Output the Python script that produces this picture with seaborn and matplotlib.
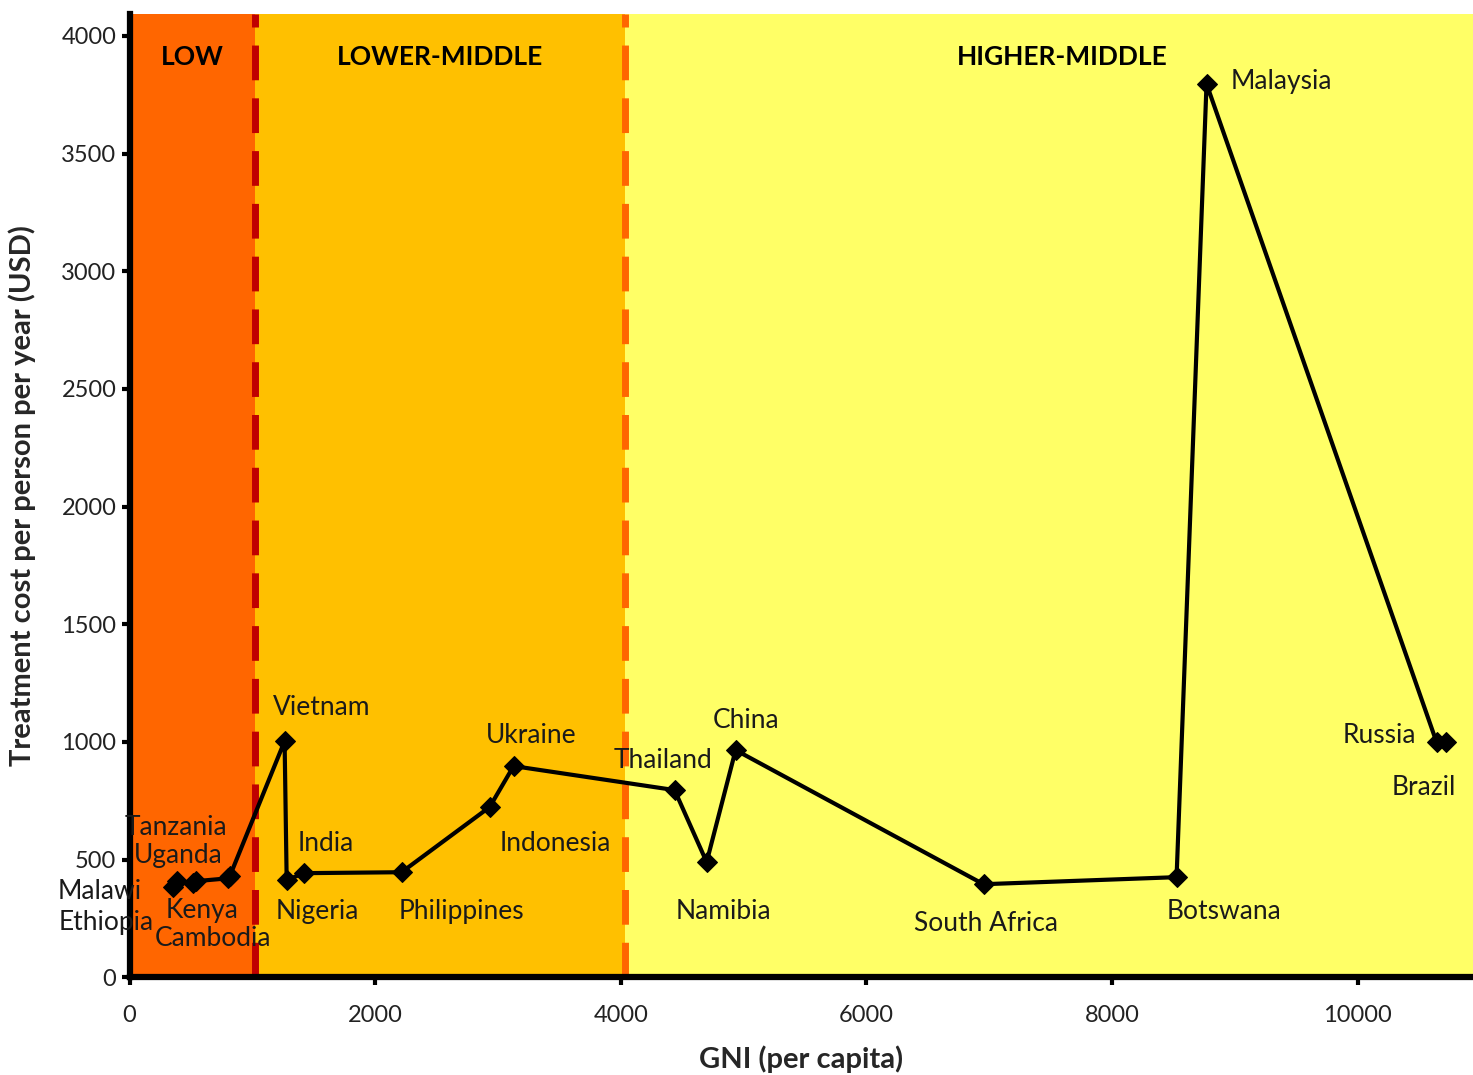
import numpy as np
import pandas as pd
import matplotlib
matplotlib.use("Agg")
import matplotlib.pyplot as plt
import seaborn as sns

# Daten
countries = ["Malawi", "Ethiopia", "Uganda", "Tanzania", "Cambodia", "Kenya",
             "Vietnam", "Nigeria", "India", "Philippines", "Indonesia", "Ukraine",
             "Thailand", "Namibia", "China", "South Africa", "Botswana", "Malaysia",
             "Russia", "Brazil"]
gni = [350, 383, 520, 540, 800, 815,
       1262, 1279, 1417, 2215, 2932, 3127,
       4438, 4699, 4935, 6954, 8526, 8770,
       10643, 10717]
cost = [383, 410, 400, 408, 420, 428,
        1003, 412, 442, 446, 723, 897,
        795, 489, 965, 395, 425, 3796,
        999, 999]

income_groups = ["LOW", "LOWER-MIDDLE", "HIGHER-MIDDLE"]
thresholds = [0, 1025, 4035, 10940]
region_colors = ["#FF6600", "#FFC000", "#FFFF66"]
line_colors = ["#C00000", "#FF6600"]
group_label_x = [513, 2530, 7598]

# Label-Offsets in Pixel (dx, dy) relativ zum Punkt
offsets = {
    "Malawi": (-73, -4), "Ethiopia": (-70, -42), "Uganda": (-15, 28), "Tanzania": (-20, 54),
    "Cambodia": (-15, -60), "Kenya": (-28, -34),
    "Vietnam": (37, 34), "Nigeria": (31, -31), "India": (22, 30), "Philippines": (60, -39),
    "Indonesia": (66, -36), "Ukraine": (18, 31), "Thailand": (-12, 30), "Namibia": (17, -49),
    "China": (10, 30), "South Africa": (2, -39), "Botswana": (47, -34), "Malaysia": (75, 2),
    "Russia": (-57, 7), "Brazil": (-22, -45),
}

df = pd.DataFrame({"country": countries, "gni": gni, "cost": cost})

sns.set_style("ticks")
plt.rcParams["font.family"] = ["Lato", "DejaVu Sans"]

fig = plt.figure(figsize=(14.73, 10.75), dpi=100)
ax = fig.add_axes([0.088, 0.091, 0.912, 0.896])

for i in range(3):
    ax.axvspan(thresholds[i], thresholds[i + 1], color=region_colors[i], zorder=0, lw=0)
    ax.text(group_label_x[i], 3911, income_groups[i], ha="center", va="center",
            fontsize=19, fontweight="bold", color="black")
for i in range(2):
    ax.axvline(thresholds[i + 1], color=line_colors[i], lw=5, ls=(0, (5, 2.6)), zorder=1)

sns.lineplot(data=df, x="gni", y="cost", marker="D", markersize=10, color="black",
             linewidth=3, markeredgecolor="black", ax=ax, zorder=3)

for c, x, y in zip(countries, gni, cost):
    dx, dy = offsets[c]
    ax.annotate(c, (x, y), xytext=(dx * 0.72, dy * 0.72), textcoords="offset points",
                ha="center", va="center", fontsize=19, color="#1a1a1a", zorder=4)

ax.set_xlim(0, thresholds[-1])
ax.set_ylim(0, 4093)
ax.set_xticks(np.arange(0, 10001, 2000))
ax.set_yticks(np.arange(0, 4001, 500))
ax.tick_params(axis="both", labelsize=17, width=3, length=6, color="black", labelcolor="#222222")
ax.tick_params(axis="x", pad=14)

for s in ["top", "right"]:
    ax.spines[s].set_visible(False)
for s in ["left", "bottom"]:
    ax.spines[s].set_linewidth(4.5)
    ax.spines[s].set_color("black")

ax.set_xlabel("GNI (per capita)", fontsize=21, fontweight="bold", labelpad=14)
ax.set_ylabel("Treatment cost per person per year (USD)", fontsize=21, fontweight="bold", labelpad=18)

fig.savefig("out.png", dpi=100)
